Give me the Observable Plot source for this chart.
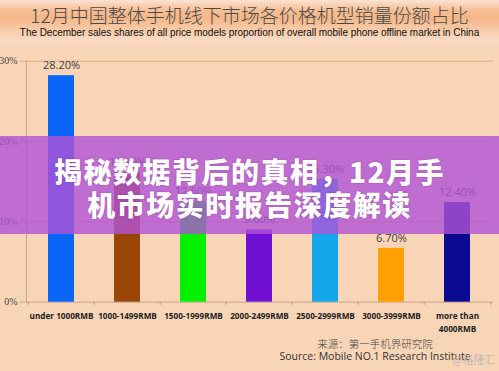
<!DOCTYPE html>
<html>
<head>
<meta charset="utf-8">
<script src="https://cdn.jsdelivr.net/npm/d3@7"></script>
<script src="https://cdn.jsdelivr.net/npm/@observablehq/plot@0.6"></script>
<style>
  html, body { margin: 0; padding: 0; }
  body { width: 499px; height: 371px; overflow: hidden; background: #f9d5b8; }
  #page { position: relative; width: 499px; height: 371px; background: #f9d5b8; }
  #header {
    position: absolute; left: 0; top: 0; width: 499px; height: 48px;
    background: linear-gradient(to bottom, #fbe2d2 0px, #f7bf95 10px, #f5b788 18px, #f8c8a4 28px, #fad9c2 40px, #f9d5b8 48px);
  }
  #title {
    position: absolute; left: 0; top: 3px; width: 499px; text-align: center;
    font-family: "Noto Sans CJK SC", sans-serif; font-weight: 300; font-size: 19px; color: #4a4a4a; line-height: 24px;
  }
  #subtitle {
    position: absolute; left: 0; top: 27px; width: 499px; text-align: center;
    font-family: "Liberation Sans", Arial, sans-serif; font-size: 10px; color: #111; line-height: 12px; letter-spacing: -0.05px;
  }
  #chart { position: absolute; left: 0; top: 40px; }
  #source {
    position: absolute; left: 250px; top: 338px; width: 250px; text-align: center;
    color: #333; line-height: 12px;
  }
  #source .cn { font-family: "Noto Sans CJK SC", sans-serif; font-weight: 300; font-size: 10.5px; color: #444; }
  #source .en { font-family: "Open Sans", sans-serif; font-size: 10.5px; }
  #wm { position: absolute; left: 452px; top: 351px; font-family: "Noto Sans CJK SC", sans-serif; font-size: 11px; color: #c0b8b2; }
  #overlay {
    position: absolute; left: 0; top: 136px; width: 499px; height: 98px;
    background: rgba(176, 82, 214, 0.8);
  }
  #overlay .t {
    position: absolute; left: 0; width: 499px; text-align: center;
    font-family: "Noto Sans CJK SC", sans-serif; font-weight: 900; font-size: 28px; line-height: 32px;
    color: #fff; letter-spacing: 1.5px; text-shadow: 0 0 2px rgba(80,20,100,0.35);
  }
</style>
</head>
<body>
<div id="page">
  <div id="header"></div>
  <div id="title">12月中国整体手机线下市场各价格机型销量份额占比</div>
  <div id="subtitle">The December sales shares of all price models proportion of overall mobile phone offline market in China</div>
  <div id="chart"></div>
  <div id="source"><div class="cn">来源：第一手机界研究院</div><div class="en">Source: Mobile NO.1 Research Institute</div></div>
  <div id="wm">@格隆汇</div>
  <div id="overlay">
    <div class="t" style="top:19px">揭秘数据背后的真相，12月手</div>
    <div class="t" style="top:52px">机市场实时报告深度解读</div>
  </div>
</div>
<script>
const categories = ["under 1000RMB", "1000-1499RMB", "1500-1999RMB", "2000-2499RMB", "2500-2999RMB", "3000-3999RMB", "more than\n4000RMB"];
const shares = [28.2, 16.1, 12.5, 9.0, 15.3, 6.7, 12.4];
const shareLabels = ["28.20%", "16.10%", "12.50%", "9.00%", "15.30%", "6.70%", "12.40%"];
const barColors = ["#0a66f8", "#9a4608", "#00f000", "#7010d4", "#12a8ea", "#ffa000", "#0a0a92"];
const yTicks = [0, 10, 20, 30];
const gridValues = [10, 20, 30];

const data = categories.map((c, i) => ({category: c, share: shares[i], label: shareLabels[i], color: barColors[i]}));

const W = 499, H = 300, ML = 26, MR = 6;
const step = (W - ML - MR) / categories.length;

const chart = Plot.plot({
  width: W,
  height: H,
  marginLeft: ML,
  marginRight: MR,
  marginTop: 20.7,
  marginBottom: 38.3,
  style: {background: "transparent", overflow: "visible"},
  x: {domain: categories, paddingInner: 0.6, paddingOuter: 0.3, label: null},
  y: {domain: [0, 30], label: null},
  marks: [
    Plot.ruleY(gridValues, {stroke: "#dcae88", strokeWidth: 1}),
    Plot.ruleY([0], {stroke: "#c9a488"}),
    Plot.frame({anchor: "left", stroke: "#c9a488"}),
    Plot.ruleX(categories, {x: d => d, y1: 0, y2: -0.4, dx: -step / 2, stroke: "#b89a86"}),
    Plot.ruleX([categories[categories.length - 1]], {x: d => d, y1: 0, y2: -0.4, dx: step / 2, stroke: "#b89a86"}),
    Plot.barY(data, {x: "category", y: "share", fill: "color"}),
    Plot.text(data, {x: "category", y: "share", text: "label", dy: -10, fontSize: 11, fill: "#3c3c3c", fontFamily: "Open Sans"}),
    Plot.axisY({ticks: yTicks, tickFormat: d => d + "%", tickSize: 6, tickPadding: 3, stroke: "#c9a488", fontSize: 10, fontFamily: "Liberation Serif", fill: "#444", label: null}),
    Plot.axisX({tickSize: 0, tickPadding: 8, fontSize: 8.2, fontWeight: "bold", fontFamily: "Open Sans", fill: "#222", lineHeight: 1.55, label: null})
  ]
});
document.getElementById("chart").appendChild(chart);
</script>
</body>
</html>
